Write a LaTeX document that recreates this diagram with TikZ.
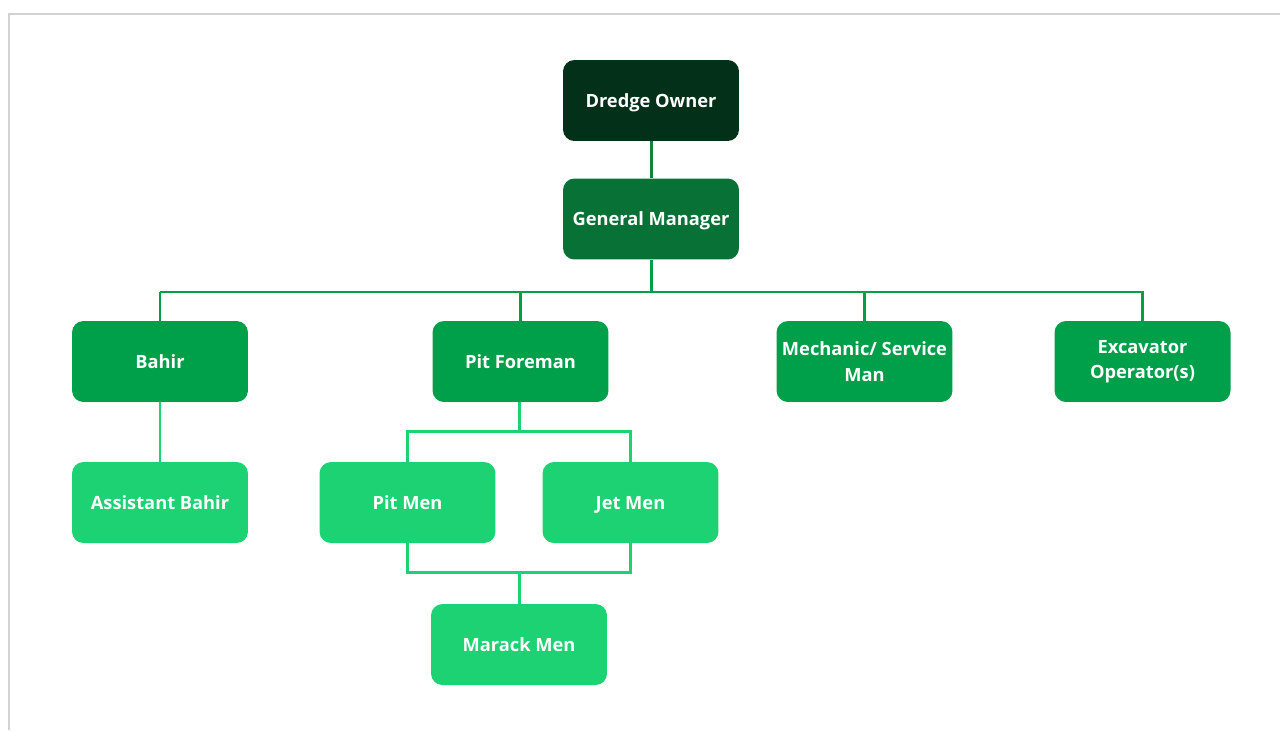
\documentclass[tikz,border=0pt]{standalone}
\usepackage{fontspec}
\setmainfont{Open Sans}
\usepackage{tikz}
\usetikzlibrary{calc}

\definecolor{ownercol}{HTML}{033019}
\definecolor{gmcol}{HTML}{087236}
\definecolor{midcol}{HTML}{00A04A}
\definecolor{lightcol}{HTML}{1DD272}
\definecolor{topline}{HTML}{15803F}
\definecolor{framecol}{HTML}{D2D2D2}

\tikzset{
  role/.style={rounded corners=6.5pt, minimum width=3.52cm, minimum height=1.62cm,
    text=white, font=\bfseries\fontsize{10.4}{14.4}\selectfont, align=center, inner sep=2pt,
    text height=1.7ex, text depth=0.3ex},
  twoline/.style={text height={}, text depth={}},
  ownerbox/.style={role, fill=ownercol},
  gmbox/.style={role, fill=gmcol},
  midbox/.style={role, fill=midcol},
  lightbox/.style={role, fill=lightcol},
  link/.style={line width=1.7pt}
}

\begin{document}
\begin{tikzpicture}[x=0.02cm, y=-0.02cm]
    \useasboundingbox (0,0) rectangle (1280,730);
    \draw[framecol, line width=1.1pt] (9,730) -- (9,14) -- (1280,14);

    \node[ownerbox] (owner) at (651,100.5) {Dredge Owner};
    \node[gmbox] (gm) at (651,219) {General Manager};
    \node[midbox] (bahir) at (160,361.5) {Bahir};
    \node[midbox] (foreman) at (520.5,361.5) {Pit Foreman};
    \node[midbox, twoline] (mech) at (864.5,361.5) {Mechanic/ Service\\Man};
    \node[midbox, twoline] (excav) at (1142.5,361.5) {Excavator\\Operator(s)};
    \node[lightbox] (asst) at (160,502.5) {Assistant Bahir};
    \node[lightbox] (pitmen) at (407.5,502.5) {Pit Men};
    \node[lightbox] (jetmen) at (630.5,502.5) {Jet Men};
    \node[lightbox] (marack) at (519,644.5) {Marack Men};

    \coordinate (bus) at (651,292);
    \coordinate (fbus) at (519,431);
    \coordinate (mbus) at (519,572);

    \draw[link, topline] (owner) -- (gm);
    \draw[link, midcol] (gm) -- (bus);
    \draw[link, midcol] (bus -| bahir.north) -- (bus -| excav.north) -- (excav.north);
    \draw[link, midcol] (bus -| bahir.north) -- (bahir.north);
    \draw[link, midcol] (bus -| foreman.north) -- (foreman.north);
    \draw[link, midcol] (bus -| mech.north) -- (mech.north);
    %\draw[link, midcol] (bus) -| (excav);
    \draw[link, lightcol] (bahir) -- (asst);
    \draw[link, lightcol] (fbus |- foreman.south) -- (fbus);
    \draw[link, lightcol] (pitmen.north) |- (fbus) -| (jetmen.north);
    \draw[link, lightcol] (pitmen.south) |- (mbus) -| (jetmen.south);
    \draw[link, lightcol] (mbus) -- (marack);
\end{tikzpicture}
\end{document}
